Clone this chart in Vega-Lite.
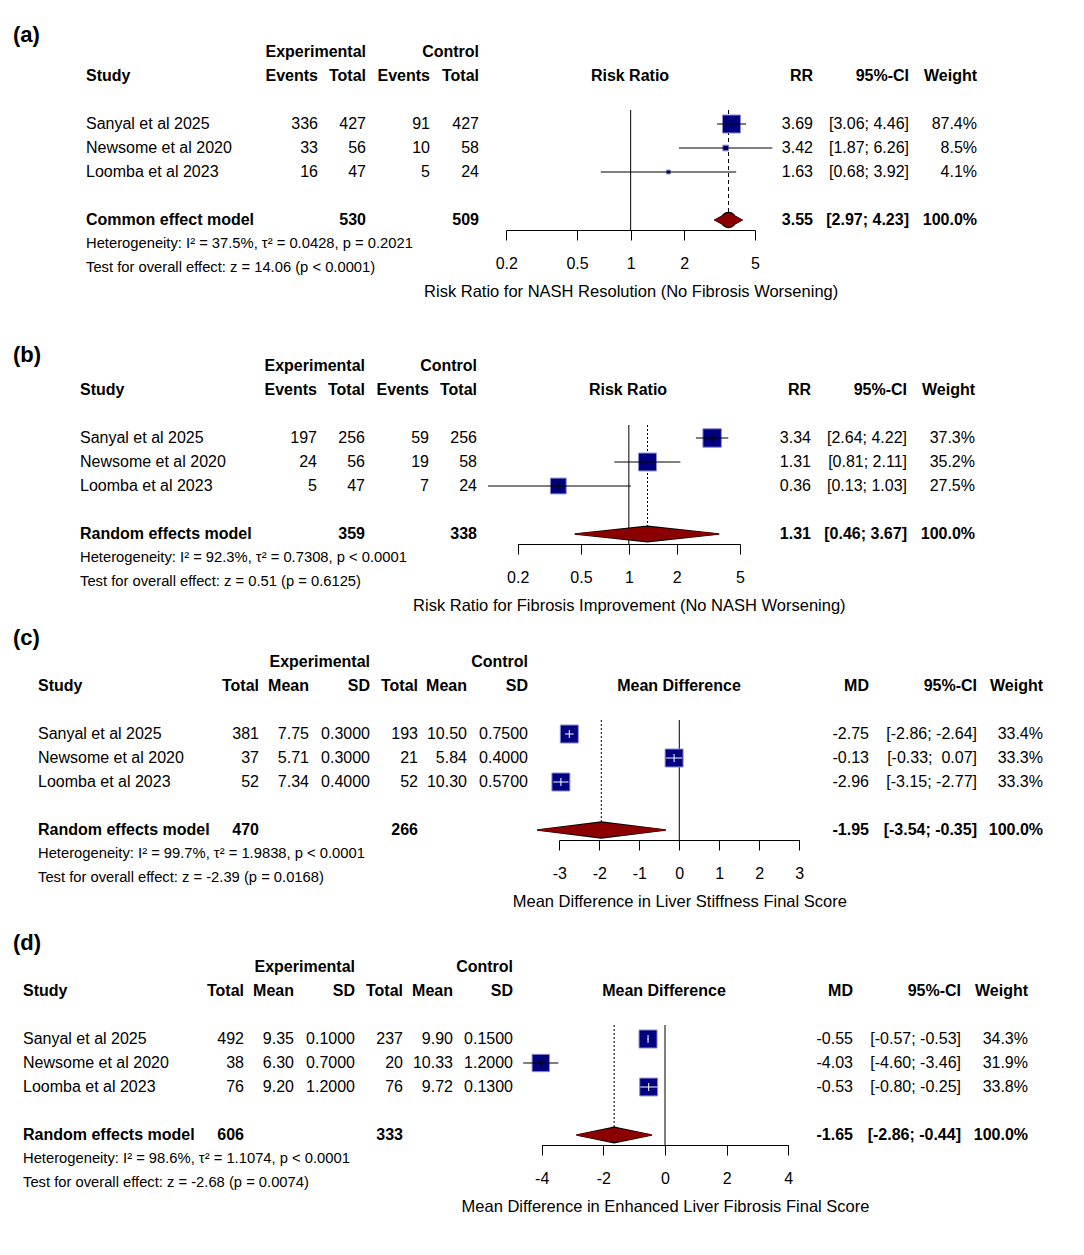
{
"$schema": "https://vega.github.io/schema/vega-lite/v6.json",
"padding": 0,
"spacing": 0,
"bounds": "flush",
"background": "white",
"config": {
 "view": {"stroke": null},
 "text": {"font": "Liberation Sans", "fontSize": 16, "color": "#000000"},
 "axis": {"grid": false, "tickSize": 10, "tickWidth": 1, "domainWidth": 1, "tickColor": "#000000", "domainColor": "#000000", "labelColor": "#000000", "titleColor": "#000000", "labelFontSize": 16, "titleFontSize": 16.5, "titleFontWeight": "normal", "labelFont": "Liberation Sans", "titleFont": "Liberation Sans", "labelPadding": 15, "titlePadding": 12, "labelFlush": false, "labelOverlap": false}
},
"datasets": {
 "a_cells": [
  {"row": "hdr1", "c": 0, "t": "(a)"},
  {"row": "hdr1", "c": 3, "t": "Experimental"},
  {"row": "hdr1", "c": 5, "t": "Control"},
  {"row": "hdr2", "c": 1, "t": "Study"},
  {"row": "hdr2", "c": 2, "t": "Events"},
  {"row": "hdr2", "c": 3, "t": "Total"},
  {"row": "hdr2", "c": 4, "t": "Events"},
  {"row": "hdr2", "c": 5, "t": "Total"},
  {"row": "hdr2", "c": 6, "t": "Risk Ratio"},
  {"row": "hdr2", "c": 7, "t": "RR"},
  {"row": "hdr2", "c": 8, "t": "95%-CI"},
  {"row": "hdr2", "c": 9, "t": "Weight"},
  {"row": "Sanyal et al 2025", "c": 1, "t": "Sanyal et al 2025"},
  {"row": "Sanyal et al 2025", "c": 2, "t": "336"},
  {"row": "Sanyal et al 2025", "c": 3, "t": "427"},
  {"row": "Sanyal et al 2025", "c": 4, "t": "91"},
  {"row": "Sanyal et al 2025", "c": 5, "t": "427"},
  {"row": "Sanyal et al 2025", "c": 7, "t": "3.69"},
  {"row": "Sanyal et al 2025", "c": 8, "t": "[3.06; 4.46]"},
  {"row": "Sanyal et al 2025", "c": 9, "t": "87.4%"},
  {"row": "Newsome et al 2020", "c": 1, "t": "Newsome et al 2020"},
  {"row": "Newsome et al 2020", "c": 2, "t": "33"},
  {"row": "Newsome et al 2020", "c": 3, "t": "56"},
  {"row": "Newsome et al 2020", "c": 4, "t": "10"},
  {"row": "Newsome et al 2020", "c": 5, "t": "58"},
  {"row": "Newsome et al 2020", "c": 7, "t": "3.42"},
  {"row": "Newsome et al 2020", "c": 8, "t": "[1.87; 6.26]"},
  {"row": "Newsome et al 2020", "c": 9, "t": "8.5%"},
  {"row": "Loomba et al 2023", "c": 1, "t": "Loomba et al 2023"},
  {"row": "Loomba et al 2023", "c": 2, "t": "16"},
  {"row": "Loomba et al 2023", "c": 3, "t": "47"},
  {"row": "Loomba et al 2023", "c": 4, "t": "5"},
  {"row": "Loomba et al 2023", "c": 5, "t": "24"},
  {"row": "Loomba et al 2023", "c": 7, "t": "1.63"},
  {"row": "Loomba et al 2023", "c": 8, "t": "[0.68; 3.92]"},
  {"row": "Loomba et al 2023", "c": 9, "t": "4.1%"},
  {"row": "model", "c": 1, "t": "Common effect model"},
  {"row": "model", "c": 3, "t": "530"},
  {"row": "model", "c": 5, "t": "509"},
  {"row": "model", "c": 7, "t": "3.55"},
  {"row": "model", "c": 8, "t": "[2.97; 4.23]"},
  {"row": "model", "c": 9, "t": "100.0%"},
  {"row": "het", "c": 1, "t": "Heterogeneity: I² = 37.5%, τ² = 0.0428, p = 0.2021"},
  {"row": "test", "c": 1, "t": "Test for overall effect: z = 14.06 (p < 0.0001)"}
 ],
 "a_fx": [
  {"row": "Sanyal et al 2025", "est": 3.69, "lower": 3.06, "upper": 4.46, "weight": 87.4},
  {"row": "Newsome et al 2020", "est": 3.42, "lower": 1.87, "upper": 6.26, "weight": 8.5},
  {"row": "Loomba et al 2023", "est": 1.63, "lower": 0.68, "upper": 3.92, "weight": 4.1}
 ],
 "a_pool": [{"row": "model", "est": 3.55, "lower": 2.97, "upper": 4.23, "ref": 1}],
 "b_cells": [
  {"row": "hdr1", "c": 0, "t": "(b)"},
  {"row": "hdr1", "c": 3, "t": "Experimental"},
  {"row": "hdr1", "c": 5, "t": "Control"},
  {"row": "hdr2", "c": 1, "t": "Study"},
  {"row": "hdr2", "c": 2, "t": "Events"},
  {"row": "hdr2", "c": 3, "t": "Total"},
  {"row": "hdr2", "c": 4, "t": "Events"},
  {"row": "hdr2", "c": 5, "t": "Total"},
  {"row": "hdr2", "c": 6, "t": "Risk Ratio"},
  {"row": "hdr2", "c": 7, "t": "RR"},
  {"row": "hdr2", "c": 8, "t": "95%-CI"},
  {"row": "hdr2", "c": 9, "t": "Weight"},
  {"row": "Sanyal et al 2025", "c": 1, "t": "Sanyal et al 2025"},
  {"row": "Sanyal et al 2025", "c": 2, "t": "197"},
  {"row": "Sanyal et al 2025", "c": 3, "t": "256"},
  {"row": "Sanyal et al 2025", "c": 4, "t": "59"},
  {"row": "Sanyal et al 2025", "c": 5, "t": "256"},
  {"row": "Sanyal et al 2025", "c": 7, "t": "3.34"},
  {"row": "Sanyal et al 2025", "c": 8, "t": "[2.64; 4.22]"},
  {"row": "Sanyal et al 2025", "c": 9, "t": "37.3%"},
  {"row": "Newsome et al 2020", "c": 1, "t": "Newsome et al 2020"},
  {"row": "Newsome et al 2020", "c": 2, "t": "24"},
  {"row": "Newsome et al 2020", "c": 3, "t": "56"},
  {"row": "Newsome et al 2020", "c": 4, "t": "19"},
  {"row": "Newsome et al 2020", "c": 5, "t": "58"},
  {"row": "Newsome et al 2020", "c": 7, "t": "1.31"},
  {"row": "Newsome et al 2020", "c": 8, "t": "[0.81; 2.11]"},
  {"row": "Newsome et al 2020", "c": 9, "t": "35.2%"},
  {"row": "Loomba et al 2023", "c": 1, "t": "Loomba et al 2023"},
  {"row": "Loomba et al 2023", "c": 2, "t": "5"},
  {"row": "Loomba et al 2023", "c": 3, "t": "47"},
  {"row": "Loomba et al 2023", "c": 4, "t": "7"},
  {"row": "Loomba et al 2023", "c": 5, "t": "24"},
  {"row": "Loomba et al 2023", "c": 7, "t": "0.36"},
  {"row": "Loomba et al 2023", "c": 8, "t": "[0.13; 1.03]"},
  {"row": "Loomba et al 2023", "c": 9, "t": "27.5%"},
  {"row": "model", "c": 1, "t": "Random effects model"},
  {"row": "model", "c": 3, "t": "359"},
  {"row": "model", "c": 5, "t": "338"},
  {"row": "model", "c": 7, "t": "1.31"},
  {"row": "model", "c": 8, "t": "[0.46; 3.67]"},
  {"row": "model", "c": 9, "t": "100.0%"},
  {"row": "het", "c": 1, "t": "Heterogeneity: I² = 92.3%, τ² = 0.7308, p < 0.0001"},
  {"row": "test", "c": 1, "t": "Test for overall effect: z = 0.51 (p = 0.6125)"}
 ],
 "b_fx": [
  {"row": "Sanyal et al 2025", "est": 3.34, "lower": 2.64, "upper": 4.22, "weight": 37.3},
  {"row": "Newsome et al 2020", "est": 1.31, "lower": 0.81, "upper": 2.11, "weight": 35.2},
  {"row": "Loomba et al 2023", "est": 0.36, "lower": 0.13, "upper": 1.03, "weight": 27.5}
 ],
 "b_pool": [{"row": "model", "est": 1.31, "lower": 0.46, "upper": 3.67, "ref": 1}],
 "c_cells": [
  {"row": "hdr1", "c": 0, "t": "(c)"},
  {"row": "hdr1", "c": 4, "t": "Experimental"},
  {"row": "hdr1", "c": 7, "t": "Control"},
  {"row": "hdr2", "c": 1, "t": "Study"},
  {"row": "hdr2", "c": 2, "t": "Total"},
  {"row": "hdr2", "c": 3, "t": "Mean"},
  {"row": "hdr2", "c": 4, "t": "SD"},
  {"row": "hdr2", "c": 5, "t": "Total"},
  {"row": "hdr2", "c": 6, "t": "Mean"},
  {"row": "hdr2", "c": 7, "t": "SD"},
  {"row": "hdr2", "c": 8, "t": "Mean Difference"},
  {"row": "hdr2", "c": 9, "t": "MD"},
  {"row": "hdr2", "c": 10, "t": "95%-CI"},
  {"row": "hdr2", "c": 11, "t": "Weight"},
  {"row": "Sanyal et al 2025", "c": 1, "t": "Sanyal et al 2025"},
  {"row": "Sanyal et al 2025", "c": 2, "t": "381"},
  {"row": "Sanyal et al 2025", "c": 3, "t": "7.75"},
  {"row": "Sanyal et al 2025", "c": 4, "t": "0.3000"},
  {"row": "Sanyal et al 2025", "c": 5, "t": "193"},
  {"row": "Sanyal et al 2025", "c": 6, "t": "10.50"},
  {"row": "Sanyal et al 2025", "c": 7, "t": "0.7500"},
  {"row": "Sanyal et al 2025", "c": 9, "t": "-2.75"},
  {"row": "Sanyal et al 2025", "c": 10, "t": "[-2.86; -2.64]"},
  {"row": "Sanyal et al 2025", "c": 11, "t": "33.4%"},
  {"row": "Newsome et al 2020", "c": 1, "t": "Newsome et al 2020"},
  {"row": "Newsome et al 2020", "c": 2, "t": "37"},
  {"row": "Newsome et al 2020", "c": 3, "t": "5.71"},
  {"row": "Newsome et al 2020", "c": 4, "t": "0.3000"},
  {"row": "Newsome et al 2020", "c": 5, "t": "21"},
  {"row": "Newsome et al 2020", "c": 6, "t": "5.84"},
  {"row": "Newsome et al 2020", "c": 7, "t": "0.4000"},
  {"row": "Newsome et al 2020", "c": 9, "t": "-0.13"},
  {"row": "Newsome et al 2020", "c": 10, "t": "[-0.33;\u00a0 0.07]"},
  {"row": "Newsome et al 2020", "c": 11, "t": "33.3%"},
  {"row": "Loomba et al 2023", "c": 1, "t": "Loomba et al 2023"},
  {"row": "Loomba et al 2023", "c": 2, "t": "52"},
  {"row": "Loomba et al 2023", "c": 3, "t": "7.34"},
  {"row": "Loomba et al 2023", "c": 4, "t": "0.4000"},
  {"row": "Loomba et al 2023", "c": 5, "t": "52"},
  {"row": "Loomba et al 2023", "c": 6, "t": "10.30"},
  {"row": "Loomba et al 2023", "c": 7, "t": "0.5700"},
  {"row": "Loomba et al 2023", "c": 9, "t": "-2.96"},
  {"row": "Loomba et al 2023", "c": 10, "t": "[-3.15; -2.77]"},
  {"row": "Loomba et al 2023", "c": 11, "t": "33.3%"},
  {"row": "model", "c": 1, "t": "Random effects model"},
  {"row": "model", "c": 2, "t": "470"},
  {"row": "model", "c": 5, "t": "266"},
  {"row": "model", "c": 9, "t": "-1.95"},
  {"row": "model", "c": 10, "t": "[-3.54; -0.35]"},
  {"row": "model", "c": 11, "t": "100.0%"},
  {"row": "het", "c": 1, "t": "Heterogeneity: I² = 99.7%, τ² = 1.9838, p < 0.0001"},
  {"row": "test", "c": 1, "t": "Test for overall effect: z = -2.39 (p = 0.0168)"}
 ],
 "c_fx": [
  {"row": "Sanyal et al 2025", "est": -2.75, "lower": -2.86, "upper": -2.64, "weight": 33.4},
  {"row": "Newsome et al 2020", "est": -0.13, "lower": -0.33, "upper": 0.07, "weight": 33.3},
  {"row": "Loomba et al 2023", "est": -2.96, "lower": -3.15, "upper": -2.77, "weight": 33.3}
 ],
 "c_pool": [{"row": "model", "est": -1.95, "lower": -3.54, "upper": -0.35, "ref": 0}],
 "d_cells": [
  {"row": "hdr1", "c": 0, "t": "(d)"},
  {"row": "hdr1", "c": 4, "t": "Experimental"},
  {"row": "hdr1", "c": 7, "t": "Control"},
  {"row": "hdr2", "c": 1, "t": "Study"},
  {"row": "hdr2", "c": 2, "t": "Total"},
  {"row": "hdr2", "c": 3, "t": "Mean"},
  {"row": "hdr2", "c": 4, "t": "SD"},
  {"row": "hdr2", "c": 5, "t": "Total"},
  {"row": "hdr2", "c": 6, "t": "Mean"},
  {"row": "hdr2", "c": 7, "t": "SD"},
  {"row": "hdr2", "c": 8, "t": "Mean Difference"},
  {"row": "hdr2", "c": 9, "t": "MD"},
  {"row": "hdr2", "c": 10, "t": "95%-CI"},
  {"row": "hdr2", "c": 11, "t": "Weight"},
  {"row": "Sanyal et al 2025", "c": 1, "t": "Sanyal et al 2025"},
  {"row": "Sanyal et al 2025", "c": 2, "t": "492"},
  {"row": "Sanyal et al 2025", "c": 3, "t": "9.35"},
  {"row": "Sanyal et al 2025", "c": 4, "t": "0.1000"},
  {"row": "Sanyal et al 2025", "c": 5, "t": "237"},
  {"row": "Sanyal et al 2025", "c": 6, "t": "9.90"},
  {"row": "Sanyal et al 2025", "c": 7, "t": "0.1500"},
  {"row": "Sanyal et al 2025", "c": 9, "t": "-0.55"},
  {"row": "Sanyal et al 2025", "c": 10, "t": "[-0.57; -0.53]"},
  {"row": "Sanyal et al 2025", "c": 11, "t": "34.3%"},
  {"row": "Newsome et al 2020", "c": 1, "t": "Newsome et al 2020"},
  {"row": "Newsome et al 2020", "c": 2, "t": "38"},
  {"row": "Newsome et al 2020", "c": 3, "t": "6.30"},
  {"row": "Newsome et al 2020", "c": 4, "t": "0.7000"},
  {"row": "Newsome et al 2020", "c": 5, "t": "20"},
  {"row": "Newsome et al 2020", "c": 6, "t": "10.33"},
  {"row": "Newsome et al 2020", "c": 7, "t": "1.2000"},
  {"row": "Newsome et al 2020", "c": 9, "t": "-4.03"},
  {"row": "Newsome et al 2020", "c": 10, "t": "[-4.60; -3.46]"},
  {"row": "Newsome et al 2020", "c": 11, "t": "31.9%"},
  {"row": "Loomba et al 2023", "c": 1, "t": "Loomba et al 2023"},
  {"row": "Loomba et al 2023", "c": 2, "t": "76"},
  {"row": "Loomba et al 2023", "c": 3, "t": "9.20"},
  {"row": "Loomba et al 2023", "c": 4, "t": "1.2000"},
  {"row": "Loomba et al 2023", "c": 5, "t": "76"},
  {"row": "Loomba et al 2023", "c": 6, "t": "9.72"},
  {"row": "Loomba et al 2023", "c": 7, "t": "0.1300"},
  {"row": "Loomba et al 2023", "c": 9, "t": "-0.53"},
  {"row": "Loomba et al 2023", "c": 10, "t": "[-0.80; -0.25]"},
  {"row": "Loomba et al 2023", "c": 11, "t": "33.8%"},
  {"row": "model", "c": 1, "t": "Random effects model"},
  {"row": "model", "c": 2, "t": "606"},
  {"row": "model", "c": 5, "t": "333"},
  {"row": "model", "c": 9, "t": "-1.65"},
  {"row": "model", "c": 10, "t": "[-2.86; -0.44]"},
  {"row": "model", "c": 11, "t": "100.0%"},
  {"row": "het", "c": 1, "t": "Heterogeneity: I² = 98.6%, τ² = 1.1074, p < 0.0001"},
  {"row": "test", "c": 1, "t": "Test for overall effect: z = -2.68 (p = 0.0074)"}
 ],
 "d_fx": [
  {"row": "Sanyal et al 2025", "est": -0.55, "lower": -0.57, "upper": -0.53, "weight": 34.3},
  {"row": "Newsome et al 2020", "est": -4.03, "lower": -4.60, "upper": -3.46, "weight": 31.9},
  {"row": "Loomba et al 2023", "est": -0.53, "lower": -0.80, "upper": -0.25, "weight": 33.8}
 ],
 "d_pool": [{"row": "model", "est": -1.65, "lower": -2.86, "upper": -0.44, "ref": 0}]
},
"vconcat": [
 {
  "width": 1084, "height": 320,
  "data": {"name": "a_cells"},
  "resolve": {"scale": {"x": "independent", "size": "independent"}},
  "encoding": {
   "x": {"field": "c", "type": "quantitative", "axis": null, "scale": {"domain": [0,1,2,3,4,5,6,7,8,9], "range": [13,86,318,366,430,479,630,813,909,977], "nice": false, "zero": false}},
   "y": {"field": "row", "type": "nominal", "axis": null, "scale": {"type": "point", "padding": 0, "domain": ["hdr1","hdr2","g1","Sanyal et al 2025","Newsome et al 2020","Loomba et al 2023","g2","model","het","test"], "range": [52, 268]}}
  },
  "layer": [
   {"transform": [{"filter": "datum.c == 0"}], "mark": {"type": "text", "align": "left", "fontWeight": "bold", "fontSize": 22, "yOffset": -17}, "encoding": {"text": {"field": "t"}}},
   {"transform": [{"filter": "datum.c == 1 && datum.row != 'hdr2' && datum.row != 'model'"}], "mark": {"type": "text", "align": "left"}, "encoding": {"text": {"field": "t"}, "size": {"condition": {"test": "datum.row == 'het' || datum.row == 'test'", "value": 14.75}, "value": 16}}},
   {"transform": [{"filter": "datum.c == 1 && (datum.row == 'hdr2' || datum.row == 'model')"}], "mark": {"type": "text", "align": "left", "fontWeight": "bold"}, "encoding": {"text": {"field": "t"}}},
   {"transform": [{"filter": "datum.c == 6"}], "mark": {"type": "text", "align": "center", "fontWeight": "bold"}, "encoding": {"text": {"field": "t"}}},
   {"transform": [{"filter": "datum.c >= 2 && datum.c != 6 && datum.row != 'hdr1' && datum.row != 'hdr2' && datum.row != 'model'"}], "mark": {"type": "text", "align": "right"}, "encoding": {"text": {"field": "t"}}},
   {"transform": [{"filter": "datum.c >= 2 && datum.c != 6 && (datum.row == 'hdr1' || datum.row == 'hdr2' || datum.row == 'model')"}], "mark": {"type": "text", "align": "right", "fontWeight": "bold"}, "encoding": {"text": {"field": "t"}}},
   {"data": {"name": "a_pool"}, "mark": {"type": "rule", "color": "#000000", "strokeWidth": 1, "yOffset": -14, "y2Offset": 10},
    "encoding": {"x": {"field": "ref", "type": "quantitative", "axis": null, "scale": {"type": "log", "domain": [0.2, 5], "range": [506.3, 755], "nice": false}},
     "y": {"datum": "Sanyal et al 2025", "type": "nominal", "axis": null, "scale": {"type": "point", "padding": 0, "domain": ["hdr1","hdr2","g1","Sanyal et al 2025","Newsome et al 2020","Loomba et al 2023","g2","model","het","test"], "range": [52, 268]}},
     "y2": {"datum": "model"}}},
   {"data": {"name": "a_pool"}, "mark": {"type": "rule", "color": "#000000", "strokeWidth": 1, "strokeDash": [4, 3], "yOffset": -14, "y2Offset": -7},
    "encoding": {"x": {"field": "est", "type": "quantitative", "axis": null, "scale": {"type": "log", "domain": [0.2, 5], "range": [506.3, 755], "nice": false}},
     "y": {"datum": "Sanyal et al 2025", "type": "nominal", "axis": null, "scale": {"type": "point", "padding": 0, "domain": ["hdr1","hdr2","g1","Sanyal et al 2025","Newsome et al 2020","Loomba et al 2023","g2","model","het","test"], "range": [52, 268]}},
     "y2": {"datum": "model"}}},
   {"data": {"name": "a_fx"}, "mark": {"type": "point", "shape": "square", "filled": true, "fill": "#000080", "stroke": "#8c8cd0", "strokeWidth": 1, "opacity": 1},
    "encoding": {"x": {"field": "est", "type": "quantitative", "scale": {"type": "log", "domain": [0.2, 5], "range": [506.3, 755], "nice": false},
      "axis": {"orient": "bottom", "offset": -90, "values": [0.2, 0.5, 1, 2, 5], "labelExpr": "'' + datum.value", "title": "Risk Ratio for NASH Resolution (No Fibrosis Worsening)"}},
     "size": {"field": "weight", "type": "quantitative", "scale": {"domain": [0, 87.4], "range": [0, 324]}, "legend": null}}},
   {"data": {"name": "a_fx"}, "mark": {"type": "rule", "color": "#000000", "strokeWidth": 1},
    "encoding": {"x": {"field": "lower", "type": "quantitative", "axis": null, "scale": {"type": "log", "domain": [0.2, 5], "range": [506.3, 755], "nice": false}}, "x2": {"field": "upper"}}},
   {"data": {"name": "a_fx"}, "mark": {"type": "tick", "color": "#000000", "thickness": 1, "opacity": 1},
    "encoding": {"x": {"field": "est", "type": "quantitative", "axis": null, "scale": {"type": "log", "domain": [0.2, 5], "range": [506.3, 755], "nice": false}},
     "size": {"field": "weight", "type": "quantitative", "scale": {"type": "sqrt", "domain": [0, 87.4], "range": [0, 8]}, "legend": null}}},
   {"data": {"name": "a_pool"}, "transform": [{"fold": ["lower", "est", "upper"], "as": ["key", "value"]}], "mark": {"type": "trail", "color": "#000000"},
    "encoding": {"x": {"field": "value", "type": "quantitative", "axis": null, "scale": {"type": "log", "domain": [0.2, 5], "range": [506.3, 755], "nice": false}},
     "order": {"field": "value", "type": "quantitative"}, "size": {"condition": {"test": "datum.key == 'est'", "value": 16.5}, "value": 1.5}}},
   {"data": {"name": "a_pool"}, "transform": [{"fold": ["lower", "est", "upper"], "as": ["key", "value"]}], "mark": {"type": "trail", "color": "#8b0000"},
    "encoding": {"x": {"field": "value", "type": "quantitative", "axis": null, "scale": {"type": "log", "domain": [0.2, 5], "range": [506.3, 755], "nice": false}},
     "order": {"field": "value", "type": "quantitative"}, "size": {"condition": {"test": "datum.key == 'est'", "value": 14}, "value": 0}}}
  ]
 },
 {
  "width": 1084, "height": 305,
  "data": {"name": "b_cells"},
  "resolve": {"scale": {"x": "independent", "size": "independent"}},
  "encoding": {
   "x": {"field": "c", "type": "quantitative", "axis": null, "scale": {"domain": [0,1,2,3,4,5,6,7,8,9], "range": [13,80,317,365,429,477,628,811,907,975], "nice": false, "zero": false}},
   "y": {"field": "row", "type": "nominal", "axis": null, "scale": {"type": "point", "padding": 0, "domain": ["hdr1","hdr2","g1","Sanyal et al 2025","Newsome et al 2020","Loomba et al 2023","g2","model","het","test"], "range": [46, 262]}}
  },
  "layer": [
   {"transform": [{"filter": "datum.c == 0"}], "mark": {"type": "text", "align": "left", "fontWeight": "bold", "fontSize": 22, "yOffset": -11}, "encoding": {"text": {"field": "t"}}},
   {"transform": [{"filter": "datum.c == 1 && datum.row != 'hdr2' && datum.row != 'model'"}], "mark": {"type": "text", "align": "left"}, "encoding": {"text": {"field": "t"}, "size": {"condition": {"test": "datum.row == 'het' || datum.row == 'test'", "value": 14.75}, "value": 16}}},
   {"transform": [{"filter": "datum.c == 1 && (datum.row == 'hdr2' || datum.row == 'model')"}], "mark": {"type": "text", "align": "left", "fontWeight": "bold"}, "encoding": {"text": {"field": "t"}}},
   {"transform": [{"filter": "datum.c == 6"}], "mark": {"type": "text", "align": "center", "fontWeight": "bold"}, "encoding": {"text": {"field": "t"}}},
   {"transform": [{"filter": "datum.c >= 2 && datum.c != 6 && datum.row != 'hdr1' && datum.row != 'hdr2' && datum.row != 'model'"}], "mark": {"type": "text", "align": "right"}, "encoding": {"text": {"field": "t"}}},
   {"transform": [{"filter": "datum.c >= 2 && datum.c != 6 && (datum.row == 'hdr1' || datum.row == 'hdr2' || datum.row == 'model')"}], "mark": {"type": "text", "align": "right", "fontWeight": "bold"}, "encoding": {"text": {"field": "t"}}},
   {"data": {"name": "b_pool"}, "mark": {"type": "rule", "color": "#000000", "strokeWidth": 1, "yOffset": -13, "y2Offset": 10},
    "encoding": {"x": {"field": "ref", "type": "quantitative", "axis": null, "scale": {"type": "log", "domain": [0.2, 5], "range": [517.7, 740], "nice": false}},
     "y": {"datum": "Sanyal et al 2025", "type": "nominal", "axis": null, "scale": {"type": "point", "padding": 0, "domain": ["hdr1","hdr2","g1","Sanyal et al 2025","Newsome et al 2020","Loomba et al 2023","g2","model","het","test"], "range": [46, 262]}},
     "y2": {"datum": "model"}}},
   {"data": {"name": "b_pool"}, "mark": {"type": "rule", "color": "#000000", "strokeWidth": 1, "strokeDash": [2, 2], "yOffset": -13, "y2Offset": -7},
    "encoding": {"x": {"field": "est", "type": "quantitative", "axis": null, "scale": {"type": "log", "domain": [0.2, 5], "range": [517.7, 740], "nice": false}},
     "y": {"datum": "Sanyal et al 2025", "type": "nominal", "axis": null, "scale": {"type": "point", "padding": 0, "domain": ["hdr1","hdr2","g1","Sanyal et al 2025","Newsome et al 2020","Loomba et al 2023","g2","model","het","test"], "range": [46, 262]}},
     "y2": {"datum": "model"}}},
   {"data": {"name": "b_fx"}, "mark": {"type": "point", "shape": "square", "filled": true, "fill": "#000080", "stroke": "#8c8cd0", "strokeWidth": 1, "opacity": 1},
    "encoding": {"x": {"field": "est", "type": "quantitative", "scale": {"type": "log", "domain": [0.2, 5], "range": [517.7, 740], "nice": false},
      "axis": {"orient": "bottom", "offset": -81, "values": [0.2, 0.5, 1, 2, 5], "labelExpr": "'' + datum.value", "title": "Risk Ratio for Fibrosis Improvement (No NASH Worsening)"}},
     "size": {"field": "weight", "type": "quantitative", "scale": {"domain": [0, 37.3], "range": [0, 340]}, "legend": null}}},
   {"data": {"name": "b_fx"}, "mark": {"type": "rule", "color": "#000000", "strokeWidth": 1},
    "encoding": {"x": {"field": "lower", "type": "quantitative", "axis": null, "scale": {"type": "log", "domain": [0.2, 5], "range": [517.7, 740], "nice": false}}, "x2": {"field": "upper"}}},
   {"data": {"name": "b_fx"}, "mark": {"type": "tick", "color": "#000000", "thickness": 1, "opacity": 1},
    "encoding": {"x": {"field": "est", "type": "quantitative", "axis": null, "scale": {"type": "log", "domain": [0.2, 5], "range": [517.7, 740], "nice": false}},
     "size": {"field": "weight", "type": "quantitative", "scale": {"type": "sqrt", "domain": [0, 37.3], "range": [0, 8]}, "legend": null}}},
   {"data": {"name": "b_pool"}, "transform": [{"fold": ["lower", "est", "upper"], "as": ["key", "value"]}], "mark": {"type": "trail", "color": "#000000"},
    "encoding": {"x": {"field": "value", "type": "quantitative", "axis": null, "scale": {"type": "log", "domain": [0.2, 5], "range": [517.7, 740], "nice": false}},
     "order": {"field": "value", "type": "quantitative"}, "size": {"condition": {"test": "datum.key == 'est'", "value": 17}, "value": 1.5}}},
   {"data": {"name": "b_pool"}, "transform": [{"fold": ["lower", "est", "upper"], "as": ["key", "value"]}], "mark": {"type": "trail", "color": "#8b0000"},
    "encoding": {"x": {"field": "value", "type": "quantitative", "axis": null, "scale": {"type": "log", "domain": [0.2, 5], "range": [517.7, 740], "nice": false}},
     "order": {"field": "value", "type": "quantitative"}, "size": {"condition": {"test": "datum.key == 'est'", "value": 14.5}, "value": 0}}}
  ]
 },
 {
  "width": 1084, "height": 300,
  "data": {"name": "c_cells"},
  "resolve": {"scale": {"x": "independent", "size": "independent"}},
  "encoding": {
   "x": {"field": "c", "type": "quantitative", "axis": null, "scale": {"domain": [0,1,2,3,4,5,6,7,8,9,10,11], "range": [13,38,259,309,370,418,467,528,679,869,977,1043], "nice": false, "zero": false}},
   "y": {"field": "row", "type": "nominal", "axis": null, "scale": {"type": "point", "padding": 0, "domain": ["hdr1","hdr2","g1","Sanyal et al 2025","Newsome et al 2020","Loomba et al 2023","g2","model","het","test"], "range": [37, 253]}}
  },
  "layer": [
   {"transform": [{"filter": "datum.c == 0"}], "mark": {"type": "text", "align": "left", "fontWeight": "bold", "fontSize": 22, "yOffset": -24}, "encoding": {"text": {"field": "t"}}},
   {"transform": [{"filter": "datum.c == 1 && datum.row != 'hdr2' && datum.row != 'model'"}], "mark": {"type": "text", "align": "left"}, "encoding": {"text": {"field": "t"}, "size": {"condition": {"test": "datum.row == 'het' || datum.row == 'test'", "value": 14.75}, "value": 16}}},
   {"transform": [{"filter": "datum.c == 1 && (datum.row == 'hdr2' || datum.row == 'model')"}], "mark": {"type": "text", "align": "left", "fontWeight": "bold"}, "encoding": {"text": {"field": "t"}}},
   {"transform": [{"filter": "datum.c == 8"}], "mark": {"type": "text", "align": "center", "fontWeight": "bold"}, "encoding": {"text": {"field": "t"}}},
   {"transform": [{"filter": "datum.c >= 2 && datum.c != 8 && datum.row != 'hdr1' && datum.row != 'hdr2' && datum.row != 'model'"}], "mark": {"type": "text", "align": "right"}, "encoding": {"text": {"field": "t"}}},
   {"transform": [{"filter": "datum.c >= 2 && datum.c != 8 && (datum.row == 'hdr1' || datum.row == 'hdr2' || datum.row == 'model')"}], "mark": {"type": "text", "align": "right", "fontWeight": "bold"}, "encoding": {"text": {"field": "t"}}},
   {"data": {"name": "c_pool"}, "mark": {"type": "rule", "color": "#000000", "strokeWidth": 1, "yOffset": -14, "y2Offset": 10},
    "encoding": {"x": {"field": "ref", "type": "quantitative", "axis": null, "scale": {"domain": [-3, 3], "range": [559.3, 799.3], "nice": false, "zero": false}},
     "y": {"datum": "Sanyal et al 2025", "type": "nominal", "axis": null, "scale": {"type": "point", "padding": 0, "domain": ["hdr1","hdr2","g1","Sanyal et al 2025","Newsome et al 2020","Loomba et al 2023","g2","model","het","test"], "range": [37, 253]}},
     "y2": {"datum": "model"}}},
   {"data": {"name": "c_pool"}, "mark": {"type": "rule", "color": "#000000", "strokeWidth": 1, "strokeDash": [2, 2], "yOffset": -14, "y2Offset": -7},
    "encoding": {"x": {"field": "est", "type": "quantitative", "axis": null, "scale": {"domain": [-3, 3], "range": [559.3, 799.3], "nice": false, "zero": false}},
     "y": {"datum": "Sanyal et al 2025", "type": "nominal", "axis": null, "scale": {"type": "point", "padding": 0, "domain": ["hdr1","hdr2","g1","Sanyal et al 2025","Newsome et al 2020","Loomba et al 2023","g2","model","het","test"], "range": [37, 253]}},
     "y2": {"datum": "model"}}},
   {"data": {"name": "c_fx"}, "mark": {"type": "point", "shape": "square", "filled": true, "fill": "#000080", "stroke": "#8c8cd0", "strokeWidth": 1, "opacity": 1},
    "encoding": {"x": {"field": "est", "type": "quantitative", "scale": {"domain": [-3, 3], "range": [559.3, 799.3], "nice": false, "zero": false},
      "axis": {"orient": "bottom", "offset": -85, "values": [-3, -2, -1, 0, 1, 2, 3], "labelExpr": "'' + datum.value", "title": "Mean Difference in Liver Stiffness Final Score"}},
     "size": {"field": "weight", "type": "quantitative", "scale": {"domain": [0, 33.4], "range": [0, 324]}, "legend": null}}},
   {"data": {"name": "c_fx"}, "mark": {"type": "rule", "strokeWidth": 1},
    "encoding": {"x": {"field": "lower", "type": "quantitative", "axis": null, "scale": {"domain": [-3, 3], "range": [559.3, 799.3], "nice": false, "zero": false}}, "x2": {"field": "upper"},
     "color": {"condition": {"test": "datum.upper - datum.lower < 0.45", "value": "#ffffff"}, "value": "#000000"}}},
   {"data": {"name": "c_fx"}, "mark": {"type": "tick", "thickness": 1, "opacity": 1},
    "encoding": {"x": {"field": "est", "type": "quantitative", "axis": null, "scale": {"domain": [-3, 3], "range": [559.3, 799.3], "nice": false, "zero": false}},
     "size": {"field": "weight", "type": "quantitative", "scale": {"type": "sqrt", "domain": [0, 33.4], "range": [0, 8]}, "legend": null},
     "color": {"condition": {"test": "datum.upper - datum.lower < 0.45", "value": "#ffffff"}, "value": "#000000"}}},
   {"data": {"name": "c_pool"}, "transform": [{"fold": ["lower", "est", "upper"], "as": ["key", "value"]}], "mark": {"type": "trail", "color": "#000000"},
    "encoding": {"x": {"field": "value", "type": "quantitative", "axis": null, "scale": {"domain": [-3, 3], "range": [559.3, 799.3], "nice": false, "zero": false}},
     "order": {"field": "value", "type": "quantitative"}, "size": {"condition": {"test": "datum.key == 'est'", "value": 17.5}, "value": 1.5}}},
   {"data": {"name": "c_pool"}, "transform": [{"fold": ["lower", "est", "upper"], "as": ["key", "value"]}], "mark": {"type": "trail", "color": "#8b0000"},
    "encoding": {"x": {"field": "value", "type": "quantitative", "axis": null, "scale": {"domain": [-3, 3], "range": [559.3, 799.3], "nice": false, "zero": false}},
     "order": {"field": "value", "type": "quantitative"}, "size": {"condition": {"test": "datum.key == 'est'", "value": 15}, "value": 0}}}
  ]
 },
 {
  "width": 1084, "height": 330,
  "data": {"name": "d_cells"},
  "resolve": {"scale": {"x": "independent", "size": "independent"}},
  "encoding": {
   "x": {"field": "c", "type": "quantitative", "axis": null, "scale": {"domain": [0,1,2,3,4,5,6,7,8,9,10,11], "range": [13,23,244,294,355,403,453,513,664,853,961,1028], "nice": false, "zero": false}},
   "y": {"field": "row", "type": "nominal", "axis": null, "scale": {"type": "point", "padding": 0, "domain": ["hdr1","hdr2","g1","Sanyal et al 2025","Newsome et al 2020","Loomba et al 2023","g2","model","het","test"], "range": [42, 258]}}
  },
  "layer": [
   {"transform": [{"filter": "datum.c == 0"}], "mark": {"type": "text", "align": "left", "fontWeight": "bold", "fontSize": 22, "yOffset": -24}, "encoding": {"text": {"field": "t"}}},
   {"transform": [{"filter": "datum.c == 1 && datum.row != 'hdr2' && datum.row != 'model'"}], "mark": {"type": "text", "align": "left"}, "encoding": {"text": {"field": "t"}, "size": {"condition": {"test": "datum.row == 'het' || datum.row == 'test'", "value": 14.75}, "value": 16}}},
   {"transform": [{"filter": "datum.c == 1 && (datum.row == 'hdr2' || datum.row == 'model')"}], "mark": {"type": "text", "align": "left", "fontWeight": "bold"}, "encoding": {"text": {"field": "t"}}},
   {"transform": [{"filter": "datum.c == 8"}], "mark": {"type": "text", "align": "center", "fontWeight": "bold"}, "encoding": {"text": {"field": "t"}}},
   {"transform": [{"filter": "datum.c >= 2 && datum.c != 8 && datum.row != 'hdr1' && datum.row != 'hdr2' && datum.row != 'model'"}], "mark": {"type": "text", "align": "right"}, "encoding": {"text": {"field": "t"}}},
   {"transform": [{"filter": "datum.c >= 2 && datum.c != 8 && (datum.row == 'hdr1' || datum.row == 'hdr2' || datum.row == 'model')"}], "mark": {"type": "text", "align": "right", "fontWeight": "bold"}, "encoding": {"text": {"field": "t"}}},
   {"data": {"name": "d_pool"}, "mark": {"type": "rule", "color": "#000000", "strokeWidth": 1, "yOffset": -14, "y2Offset": 10},
    "encoding": {"x": {"field": "ref", "type": "quantitative", "axis": null, "scale": {"domain": [-4, 4], "range": [541.7, 788.3], "nice": false, "zero": false}},
     "y": {"datum": "Sanyal et al 2025", "type": "nominal", "axis": null, "scale": {"type": "point", "padding": 0, "domain": ["hdr1","hdr2","g1","Sanyal et al 2025","Newsome et al 2020","Loomba et al 2023","g2","model","het","test"], "range": [42, 258]}},
     "y2": {"datum": "model"}}},
   {"data": {"name": "d_pool"}, "mark": {"type": "rule", "color": "#000000", "strokeWidth": 1, "strokeDash": [2, 2], "yOffset": -14, "y2Offset": -7},
    "encoding": {"x": {"field": "est", "type": "quantitative", "axis": null, "scale": {"domain": [-4, 4], "range": [541.7, 788.3], "nice": false, "zero": false}},
     "y": {"datum": "Sanyal et al 2025", "type": "nominal", "axis": null, "scale": {"type": "point", "padding": 0, "domain": ["hdr1","hdr2","g1","Sanyal et al 2025","Newsome et al 2020","Loomba et al 2023","g2","model","het","test"], "range": [42, 258]}},
     "y2": {"datum": "model"}}},
   {"data": {"name": "d_fx"}, "mark": {"type": "point", "shape": "square", "filled": true, "fill": "#000080", "stroke": "#8c8cd0", "strokeWidth": 1, "opacity": 1},
    "encoding": {"x": {"field": "est", "type": "quantitative", "scale": {"domain": [-4, 4], "range": [541.7, 788.3], "nice": false, "zero": false},
      "axis": {"orient": "bottom", "offset": -110, "values": [-4, -2, 0, 2, 4], "labelExpr": "'' + datum.value", "title": "Mean Difference in Enhanced Liver Fibrosis Final Score"}},
     "size": {"field": "weight", "type": "quantitative", "scale": {"domain": [0, 34.3], "range": [0, 324]}, "legend": null}}},
   {"data": {"name": "d_fx"}, "mark": {"type": "rule", "strokeWidth": 1},
    "encoding": {"x": {"field": "lower", "type": "quantitative", "axis": null, "scale": {"domain": [-4, 4], "range": [541.7, 788.3], "nice": false, "zero": false}}, "x2": {"field": "upper"},
     "color": {"condition": {"test": "datum.upper - datum.lower < 0.6", "value": "#ffffff"}, "value": "#000000"}}},
   {"data": {"name": "d_fx"}, "mark": {"type": "tick", "thickness": 1, "opacity": 1},
    "encoding": {"x": {"field": "est", "type": "quantitative", "axis": null, "scale": {"domain": [-4, 4], "range": [541.7, 788.3], "nice": false, "zero": false}},
     "size": {"field": "weight", "type": "quantitative", "scale": {"type": "sqrt", "domain": [0, 34.3], "range": [0, 8]}, "legend": null},
     "color": {"condition": {"test": "datum.upper - datum.lower < 0.6", "value": "#ffffff"}, "value": "#000000"}}},
   {"data": {"name": "d_pool"}, "transform": [{"fold": ["lower", "est", "upper"], "as": ["key", "value"]}], "mark": {"type": "trail", "color": "#000000"},
    "encoding": {"x": {"field": "value", "type": "quantitative", "axis": null, "scale": {"domain": [-4, 4], "range": [541.7, 788.3], "nice": false, "zero": false}},
     "order": {"field": "value", "type": "quantitative"}, "size": {"condition": {"test": "datum.key == 'est'", "value": 17}, "value": 1.5}}},
   {"data": {"name": "d_pool"}, "transform": [{"fold": ["lower", "est", "upper"], "as": ["key", "value"]}], "mark": {"type": "trail", "color": "#8b0000"},
    "encoding": {"x": {"field": "value", "type": "quantitative", "axis": null, "scale": {"domain": [-4, 4], "range": [541.7, 788.3], "nice": false, "zero": false}},
     "order": {"field": "value", "type": "quantitative"}, "size": {"condition": {"test": "datum.key == 'est'", "value": 14.5}, "value": 0}}}
  ]
 }
]
}
